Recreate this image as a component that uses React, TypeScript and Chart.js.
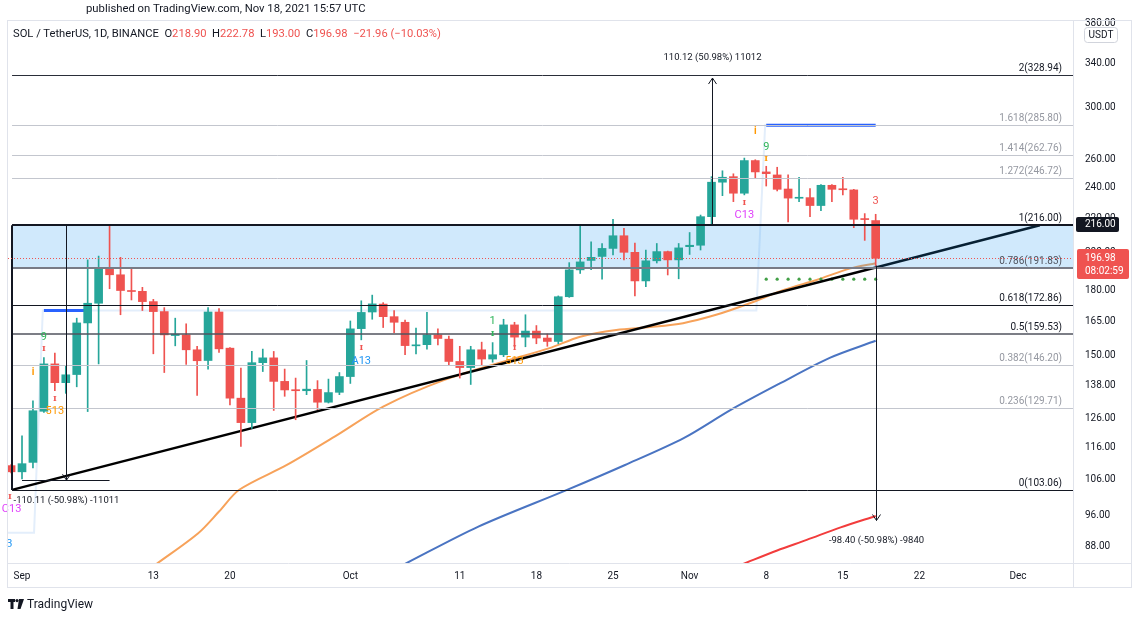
import React, { useEffect, useRef } from "react";
import { Chart, registerables } from "chart.js";

Chart.register(...registerables);

const FONT = "Roboto, 'DejaVu Sans', sans-serif";
const UP = "#26a69a";
const DOWN = "#ef5350";

// ---------- candles (SOL/USDT daily) ----------
const dates = [
  "2021-08-31",
  "2021-09-01","2021-09-02","2021-09-03","2021-09-04","2021-09-05","2021-09-06","2021-09-07","2021-09-08","2021-09-09","2021-09-10",
  "2021-09-11","2021-09-12","2021-09-13","2021-09-14","2021-09-15","2021-09-16","2021-09-17","2021-09-18","2021-09-19","2021-09-20",
  "2021-09-21","2021-09-22","2021-09-23","2021-09-24","2021-09-25","2021-09-26","2021-09-27","2021-09-28","2021-09-29","2021-09-30",
  "2021-10-01","2021-10-02","2021-10-03","2021-10-04","2021-10-05","2021-10-06","2021-10-07","2021-10-08","2021-10-09","2021-10-10",
  "2021-10-11","2021-10-12","2021-10-13","2021-10-14","2021-10-15","2021-10-16","2021-10-17","2021-10-18","2021-10-19","2021-10-20",
  "2021-10-21","2021-10-22","2021-10-23","2021-10-24","2021-10-25","2021-10-26","2021-10-27","2021-10-28","2021-10-29","2021-10-30","2021-10-31",
  "2021-11-01","2021-11-02","2021-11-03","2021-11-04","2021-11-05","2021-11-06","2021-11-07","2021-11-08","2021-11-09","2021-11-10",
  "2021-11-11","2021-11-12","2021-11-13","2021-11-14","2021-11-15","2021-11-16","2021-11-17","2021-11-18",
];
const opens = [
  110.3,
  108.4, 111.3, 128.4, 146.6, 139.1, 142.3, 164.4, 173.7, 191.2, 188.1,
  180.0, 179.6, 174.5, 169.7, 158.7, 159.0, 152.5, 148.0, 169.5, 153.2,
  133.2, 124.4, 147.1, 149.1, 139.6, 136.4, 136.0, 136.5, 131.7, 135.4,
  141.5, 161.8, 169.5, 173.3, 167.3, 164.7, 154.2, 154.7, 159.0, 157.1,
  147.6, 145.1, 152.5, 148.6, 150.4, 163.5, 158.0, 160.7, 157.6, 156.1,
  176.9, 190.7, 195.8, 198.0, 202.5, 209.8, 200.3, 184.9, 195.6, 200.7, 196.1,
  203.5, 204.3, 221.3, 243.7, 247.5, 236.3, 258.9, 250.8, 248.7, 239.1,
  233.0, 233.4, 228.3, 241.6, 238.9, 238.5, 219.9, 218.9,
];
const highs = [
  110.6,
  119.9, 132.2, 149.2, 151.1, 145.6, 166.6, 196.1, 198.2, 216.2, 197.5,
  192.0, 181.6, 175.6, 171.6, 166.6, 164.0, 154.0, 171.6, 171.1, 153.5,
  144.9, 151.8, 152.8, 151.8, 144.5, 140.9, 148.0, 139.9, 140.5, 143.1,
  165.3, 174.9, 177.7, 174.0, 170.2, 165.7, 162.1, 169.3, 161.7, 158.5,
  154.0, 154.0, 155.8, 155.6, 166.1, 164.7, 168.2, 163.2, 159.4, 177.3,
  194.6, 215.6, 206.2, 205.3, 219.7, 214.2, 205.6, 201.6, 205.3, 201.0, 205.3,
  211.7, 222.3, 247.5, 251.6, 249.5, 260.7, 259.5, 254.8, 254.1, 248.7,
  247.1, 239.4, 242.0, 242.0, 247.1, 238.9, 223.2, 222.78,
];
const lows = [
  108.1,
  106.3, 109.6, 128.0, 136.0, 135.0, 137.5, 128.3, 146.6, 180.9, 168.2,
  175.3, 170.2, 150.8, 143.1, 154.2, 146.4, 134.2, 144.5, 151.4, 130.7,
  116.4, 122.4, 143.5, 128.7, 133.9, 125.4, 134.5, 129.0, 131.4, 134.5,
  138.8, 156.8, 166.1, 162.3, 160.0, 150.4, 150.8, 152.8, 154.6, 145.9,
  140.9, 138.4, 146.1, 147.3, 149.6, 153.8, 153.8, 155.1, 154.0, 155.1,
  176.6, 188.8, 190.8, 185.8, 198.8, 196.1, 177.3, 182.0, 194.4, 188.0, 186.0,
  199.1, 201.6, 216.2, 234.7, 230.8, 235.2, 246.5, 241.1, 237.8, 218.0,
  230.8, 221.3, 225.0, 230.8, 235.2, 214.6, 207.1, 193.0,
];
const closes = [
  108.4,
  110.9, 128.6, 146.6, 139.1, 142.2, 164.4, 173.7, 191.2, 188.1, 180.0,
  179.5, 174.5, 169.7, 159.0, 159.3, 152.5, 147.9, 169.5, 152.9, 133.2,
  124.4, 147.1, 149.1, 139.6, 136.3, 136.0, 136.6, 131.7, 135.3, 141.5,
  161.7, 169.3, 173.4, 167.3, 164.7, 154.3, 154.6, 159.0, 157.4, 147.6,
  145.1, 152.5, 148.6, 150.4, 163.5, 158.0, 160.7, 157.6, 156.1, 176.9,
  190.7, 195.0, 197.5, 202.5, 209.8, 200.3, 184.9, 195.6, 200.7, 196.1, 202.8,
  204.3, 221.3, 243.7, 247.1, 236.3, 258.9, 250.8, 249.6, 238.9, 233.1,
  233.6, 228.3, 241.6, 238.9, 238.6, 219.7, 219.5, 196.98,
];

// ---------- axes ----------
const X_MIN = -1.28; // days from Sep 1 at left edge
const X_MAX = 96.03;
const Y_MIN = 84.0;
const Y_MAX = 383.6;
const xTickDays = [0, 12, 19, 30, 40, 47, 54, 61, 68, 75, 82, 91];
const xTickLabels = ["Sep", "13", "20", "Oct", "11", "18", "25", "Nov", "8", "15", "22", "Dec"];
const yTicks = [88, 96, 106, 116, 126, 138, 150, 165, 180, 200, 220, 240, 260, 300, 340, 380];

// ---------- moving averages ----------
const orangeDays = [12.3, 16.1, 18.0, 19.85, 24.2, 28.6, 33.0, 38.6, 44.6, 48.2, 51.0, 54.3, 57.4, 60.4, 63.5, 66.5, 69.6, 72.6, 75.7, 78];
const orangeValues = [83.8, 91.3, 97.0, 103.1, 110.5, 119.7, 130.1, 140.2, 148.3, 153.2, 158.2, 161.2, 162.5, 164.3, 168.3, 173.7, 180.3, 185.4, 191.5, 194.3];
const blueDays = [35.0, 41.7, 49.8, 55.1, 60.5, 64.8, 69.2, 73.8, 78];
const blueValues = [83.8, 93.0, 103.06, 110.5, 119.2, 129.0, 138.7, 149.1, 156.4];
const redDays = [65.9, 69.0, 71.7, 74.8, 78];
const redValues = [83.8, 87.0, 89.6, 92.8, 95.8];

// ---------- drawings ----------
const fibLevels = [2, 1.618, 1.414, 1.272, 1, 0.786, 0.618, 0.5, 0.382, 0.236, 0];
const fibPrices = [328.94, 285.8, 262.76, 246.72, 216.0, 191.83, 172.86, 159.53, 146.2, 129.71, 103.06];
const fibStartDay = -0.91;
const trendDays = [-0.91, 93.0];
const trendPrices = [103.06, 216.0];
const lastPrice = 196.98;

const measureDays = [4, 63, 78];
const measureStartDays = [0, 63, 78];
const measureEndDays = [8, 63, 78];
const measureFrom = [216.0, 216.0, 193.0];
const measureTo = [105.89, 326.12, 94.6];
const measureLabels = ["-110.11 (-50.98%) -11011", "110.12 (50.98%) 11012", "-98.40 (-50.98%) -9840"];

const supportDotDays = [68, 69, 70, 71, 72, 73, 74, 75, 76, 77, 78];
const supportDotPrice = 185.8;
const resistDays = [68, 78];
const resistPrice = 285.8;
const resistOldDays = [2, 6];
const resistOldPrice = 170.2;
const stepDays = [-1.3, 1.1, 1.9, 67.1, 67.9, 68];
const stepPrices = [91.4, 91.4, 170.2, 170.2, 285.8, 285.8];

const tdTexts = ["9", "I", "i", "I", "513", "I", "A13", "1", "I", "I", "513", "I", "C13", "i", "9", "I", "3", "C13", "3", "I"];
const tdDays = [2, 2, 1, 3, 3, 31, 31, 43, 43, 45, 45, 66, 66, 67, 68, 68, 78, -0.95, -1.15, -1.1];
const tdPrices = [158.1, 152.9, 143.0, 132.9, 128.5, 153.3, 147.8, 165.3, 159.4, 153.3, 147.8, 229.9, 222.4, 280.5, 268.9, 260.1, 231.3, 97.5, 88.6, 101.1];
// styles for the TD labels (kept apart from values)
const tdColors = ["#2fb55b", "#ef5350", "#ff9800", "#ef5350", "#ff9800", "#ef5350", "#2196f3", "#2fb55b", "#2fb55b", "#ef5350", "#ff9800", "#ef5350", "#e040fb", "#ff9800", "#2fb55b", "#ff9800", "#ef5350", "#e040fb", "#2196f3", "#ef5350"];
const tdKinds = ["t", "m", "i", "m", "t", "m", "t", "t", "m", "m", "t", "m", "t", "i", "t", "m", "t", "t", "t", "m"];

const fibLineColors = ["#2a2e39", "#c3c6ce", "#c3c6ce", "#c3c6ce", "#131722", "#787b86", "#131722", "#50535e", "#c3c6ce", "#c3c6ce", "#131722"];
const fibLineWidths = [1, 1, 1, 1, 2, 2, 1, 1.5, 1, 1, 1];
const fibLabelColors = ["#131722", "#9598a1", "#9598a1", "#9598a1", "#131722", "#50535e", "#131722", "#131722", "#9598a1", "#9598a1", "#131722"];

const DAY0 = Date.UTC(2021, 8, 1);
const dayIndex = dates.map((s) => {
  const [y, m, d] = s.split("-").map(Number);
  return Math.round((Date.UTC(y, m - 1, d) - DAY0) / 86400000);
});

function crisp(v: number, w: number) {
  return w % 2 === 1 ? Math.round(v) + 0.5 : Math.round(v);
}

const overlayPlugin = {
  id: "overlay",
  beforeDatasetDraw(chart: any, args: any) {
    const ds = chart.data.datasets[args.index];
    if (!ds || ds.label !== "wick") return;
    const { ctx, chartArea: a, scales } = chart;
    const X = (d: number) => scales.x.getPixelForValue(d);
    const Y = (p: number) => scales.y.getPixelForValue(p);
    const zx0 = X(fibStartDay);
    ctx.save();
    ctx.fillStyle = "rgba(33,150,243,0.21)";
    ctx.fillRect(zx0, Y(fibPrices[4]), a.right - zx0, Y(fibPrices[5]) - Y(fibPrices[4]));
    ctx.restore();
  },
  afterDatasetsDraw(chart: any) {
    const { ctx, chartArea: a, scales } = chart;
    const X = (d: number) => scales.x.getPixelForValue(d);
    const Y = (p: number) => scales.y.getPixelForValue(p);
    ctx.save();
    ctx.beginPath();
    ctx.rect(a.left, a.top, a.right - a.left, a.bottom - a.top);
    ctx.clip();

    const zx0 = X(fibStartDay);
    const zx1 = a.right;

    // fib lines
    fibPrices.forEach((p, i) => {
      const w = fibLineWidths[i];
      const y = crisp(Y(p), w);
      ctx.strokeStyle = fibLineColors[i];
      ctx.lineWidth = w;
      ctx.beginPath();
      ctx.moveTo(zx0, y);
      ctx.lineTo(zx1, y);
      ctx.stroke();
    });
    // fib left edge
    ctx.strokeStyle = "#131722";
    ctx.lineWidth = 2;
    ctx.beginPath();
    ctx.moveTo(Math.round(zx0), Y(fibPrices[10]));
    ctx.lineTo(Math.round(zx0), Y(fibPrices[4]));
    ctx.stroke();

    // fib labels
    ctx.font = `10px ${FONT}`;
    ctx.textAlign = "right";
    ctx.textBaseline = "alphabetic";
    fibPrices.forEach((p, i) => {
      ctx.fillStyle = fibLabelColors[i];
      ctx.fillText(`${fibLevels[i]}(${p.toFixed(2)})`, a.right - 11, Y(p) - 4);
    });

    // last price dotted line
    ctx.strokeStyle = "#ef5350";
    ctx.lineWidth = 1;
    ctx.setLineDash([1, 2]);
    const ly = crisp(Y(lastPrice), 1);
    ctx.beginPath();
    ctx.moveTo(a.left, ly);
    ctx.lineTo(a.right, ly);
    ctx.stroke();
    ctx.setLineDash([]);

    // measure tools
    ctx.strokeStyle = "#131722";
    ctx.fillStyle = "#131722";
    ctx.lineWidth = 1;
    measureDays.forEach((d, i) => {
      const x = crisp(X(d), 1);
      const y0 = Y(measureFrom[i]);
      const y1 = Y(measureTo[i]);
      const s = y1 > y0 ? 1 : -1;
      ctx.beginPath();
      ctx.moveTo(x, y0);
      ctx.lineTo(x, y1);
      ctx.stroke();
      ctx.beginPath();
      ctx.moveTo(x - 4, y1 - s * 6);
      ctx.lineTo(x, y1);
      ctx.lineTo(x + 4, y1 - s * 6);
      ctx.stroke();
      if (measureStartDays[i] !== measureEndDays[i]) {
        const xa = X(measureStartDays[i]);
        const xb = X(measureEndDays[i]);
        [y0, y1].forEach((yy) => {
          const cy = crisp(yy, 1);
          ctx.beginPath();
          ctx.moveTo(xa, cy);
          ctx.lineTo(xb, cy);
          ctx.stroke();
        });
      }
      ctx.font = `9.5px ${FONT}`;
      ctx.textAlign = "center";
      ctx.textBaseline = "middle";
      ctx.fillText(measureLabels[i], x, y1 + s * 20);
    });
    ctx.restore();

    // TD sequential labels (not clipped to the pane edge)
    ctx.save();
    ctx.beginPath();
    ctx.rect(0, a.top, a.right, a.bottom - a.top);
    ctx.clip();
    tdTexts.forEach((t, i) => {
      const k = tdKinds[i];
      ctx.fillStyle = tdColors[i];
      ctx.textAlign = "center";
      ctx.textBaseline = "middle";
      if (k === "m") ctx.font = `bold 8px 'DejaVu Serif', serif`;
      else if (k === "i") ctx.font = `bold 10px ${FONT}`;
      else ctx.font = `11px ${FONT}`;
      ctx.fillText(t, X(tdDays[i]), Y(tdPrices[i]));
    });
    ctx.restore();
  },
  afterDraw(chart: any) {
    const { ctx, chartArea: a, scales } = chart;
    const Y = (p: number) => scales.y.getPixelForValue(p);
    ctx.save();
    // frame + axis separators
    ctx.strokeStyle = "#e0e3eb";
    ctx.lineWidth = 1;
    ctx.strokeRect(7.5, 20.5, 1124, 567);
    ctx.beginPath();
    ctx.moveTo(a.right + 0.5, 20);
    ctx.lineTo(a.right + 0.5, 588);
    ctx.moveTo(7.5, a.bottom + 0.5);
    ctx.lineTo(1132, a.bottom + 0.5);
    ctx.stroke();

    // USDT badge
    const bx = 1084.5, by = 27.5, bw = 33, bh = 15;
    ctx.fillStyle = "#ffffff";
    ctx.strokeStyle = "#d1d4dc";
    ctx.beginPath();
    (ctx as any).roundRect(bx, by, bw, bh, 3);
    ctx.fill();
    ctx.stroke();
    ctx.fillStyle = "#131722";
    ctx.font = `10px ${FONT}`;
    ctx.textAlign = "center";
    ctx.textBaseline = "middle";
    ctx.fillText("USDT", bx + bw / 2, by + bh / 2 + 0.5);

    // level 1 price label
    const y216 = Y(fibPrices[4]);
    ctx.fillStyle = "#131722";
    ctx.beginPath();
    (ctx as any).roundRect(1076, Math.round(y216) - 8, 43, 15, 2);
    ctx.fill();
    ctx.fillStyle = "#ffffff";
    ctx.textAlign = "left";
    ctx.fillText(fibPrices[4].toFixed(2), 1085, Math.round(y216) - 0.5);

    // last price label
    const yl = Y(lastPrice);
    ctx.fillStyle = "#ef5350";
    ctx.beginPath();
    (ctx as any).roundRect(1077, Math.round(yl) - 9, 52, 30, 2);
    ctx.fill();
    ctx.fillStyle = "#ffffff";
    ctx.fillText(lastPrice.toFixed(2), 1085, Math.round(yl) + 0.5);
    ctx.fillText("08:02:59", 1085, Math.round(yl) + 13);
    ctx.restore();
  },
};

function lineData(xs: number[], ys: number[]) {
  return xs.map((x, i) => ({ x, y: ys[i] }));
}

export default function App() {
  const ref = useRef<HTMLCanvasElement | null>(null);

  useEffect(() => {
    if (!ref.current) return;
    const colors = closes.map((c, i) => (c >= opens[i] ? UP : DOWN));
    const chart = new Chart(ref.current, {
      type: "bar",
      data: {
        datasets: [
          {
            type: "bar",
            label: "body",
            data: dayIndex.map((d, i) => ({ x: d, y: [opens[i], closes[i]] })),
            backgroundColor: colors,
            barThickness: 8,
            minBarLength: 1,
            grouped: false,
            order: 1,
          } as any,
          {
            type: "bar",
            label: "wick",
            data: dayIndex.map((d, i) => ({ x: d, y: [lows[i], highs[i]] })),
            backgroundColor: colors,
            barThickness: 1,
            minBarLength: 1,
            grouped: false,
            order: 2,
          } as any,
          {
            type: "line",
            label: "trend",
            data: lineData(trendDays, trendPrices),
            borderColor: "#000000",
            borderWidth: 2.5,
            pointRadius: 0,
            order: 3,
          } as any,
          {
            type: "line",
            label: "resistance",
            data: lineData(resistDays, resistDays.map(() => resistPrice)),
            borderColor: "#2962ff",
            borderWidth: 3,
            pointRadius: 0,
            order: 3,
          } as any,
          {
            type: "line",
            label: "resistance old",
            data: lineData(resistOldDays, resistOldDays.map(() => resistOldPrice)),
            borderColor: "#2962ff",
            borderWidth: 3,
            pointRadius: 0,
            order: 3,
          } as any,
          {
            type: "line",
            label: "support dots",
            data: lineData(supportDotDays, supportDotDays.map(() => supportDotPrice)),
            showLine: false,
            pointRadius: 1.6,
            pointBorderWidth: 0,
            pointBackgroundColor: "#43a047",
            order: 3,
          } as any,
          {
            type: "line",
            label: "ema orange",
            data: lineData(orangeDays, orangeValues),
            borderColor: "#f7a25a",
            borderWidth: 2,
            pointRadius: 0,
            tension: 0.3,
            order: 4,
          } as any,
          {
            type: "line",
            label: "ma blue",
            data: lineData(blueDays, blueValues),
            borderColor: "#4a74c2",
            borderWidth: 2,
            pointRadius: 0,
            tension: 0.3,
            order: 4,
          } as any,
          {
            type: "line",
            label: "ma red",
            data: lineData(redDays, redValues),
            borderColor: "#f23c3c",
            borderWidth: 2,
            pointRadius: 0,
            tension: 0.3,
            order: 4,
          } as any,
          {
            type: "line",
            label: "td step",
            data: lineData(stepDays, stepPrices),
            borderColor: "#e3eefb",
            borderWidth: 2,
            pointRadius: 0,
            order: 9,
          } as any,
        ],
      },
      options: {
        animation: false,
        responsive: false,
        maintainAspectRatio: false,
        devicePixelRatio: 1,
        layout: { padding: { left: 8, top: 20, right: 0, bottom: 30 } },
        plugins: { legend: { display: false }, tooltip: { enabled: false } },
        events: [],
        scales: {
          x: {
            type: "linear",
            min: X_MIN,
            max: X_MAX,
            offset: false,
            grid: { display: false, drawTicks: false },
            border: { display: false },
            ticks: {
              autoSkip: false,
              maxRotation: 0,
              padding: 7,
              color: "#131722",
              font: { family: FONT, size: 10 },
              callback: (v: any) => {
                const k = xTickDays.indexOf(Number(v));
                return k >= 0 ? xTickLabels[k] : "";
              },
            },
            afterBuildTicks: (s: any) => {
              s.ticks = xTickDays.map((v) => ({ value: v }));
            },
            afterFit: (s: any) => {
              s.height = 24;
            },
          },
          y: {
            type: "logarithmic",
            position: "right",
            min: Y_MIN,
            max: Y_MAX,
            grid: { display: false, drawTicks: false },
            border: { display: false },
            ticks: {
              autoSkip: false,
              padding: 12,
              color: "#131722",
              font: { family: FONT, size: 10 },
              callback: (v: any) => Number(v).toFixed(2),
            },
            afterBuildTicks: (s: any) => {
              s.ticks = yTicks.map((v) => ({ value: v }));
            },
            afterFit: (s: any) => {
              s.width = 59;
            },
          },
        },
      } as any,
      plugins: [overlayPlugin],
    });
    return () => chart.destroy();
  }, []);

  const red = { color: "#ef5350" };
  return (
    <div
      style={{
        position: "fixed",
        left: 0,
        top: 0,
        width: 1132,
        height: 617,
        background: "#ffffff",
        fontFamily: FONT,
        color: "#131722",
        overflow: "hidden",
      }}
    >
      <canvas ref={ref} width={1132} height={617} style={{ position: "absolute", left: 0, top: 0 }} />
      <div style={{ position: "absolute", left: 86, top: 2, fontSize: 11.3, lineHeight: "14px", whiteSpace: "nowrap" }}>
        published on TradingView.com, Nov 18, 2021 15:57 UTC
      </div>
      <div style={{ position: "absolute", left: 13, top: 27, fontSize: 11.2, lineHeight: "14px", whiteSpace: "nowrap" }}>
        SOL / TetherUS, 1D, BINANCE&nbsp;&nbsp;O<span style={red}>218.90</span>&nbsp;&nbsp;H<span style={red}>222.78</span>
        &nbsp;&nbsp;L<span style={red}>193.00</span>&nbsp;&nbsp;C<span style={red}>196.98</span>&nbsp;&nbsp;
        <span style={red}>−21.96 (−10.03%)</span>
      </div>
      <div
        style={{
          position: "absolute",
          left: 8,
          top: 597,
          display: "flex",
          alignItems: "center",
          gap: 3,
          fontSize: 12,
          lineHeight: "14px",
          whiteSpace: "nowrap",
        }}
      >
        <svg width="16" height="10" viewBox="0 0 16 10">
          <rect x="0" y="0" width="7" height="3" fill="#131722" />
          <rect x="2.5" y="0" width="3" height="10" fill="#131722" />
          <circle cx="9" cy="1.6" r="1.6" fill="#131722" />
          <path d="M11 0 L16 0 L12.5 10 L9.5 10 Z" fill="#131722" />
        </svg>
        <span>TradingView</span>
      </div>
    </div>
  );
}
